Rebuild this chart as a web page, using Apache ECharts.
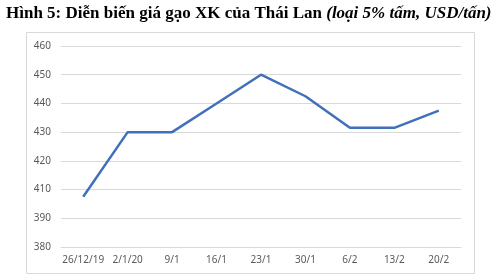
<!DOCTYPE html>
<html>
<head>
<meta charset="utf-8">
<script src="https://cdn.jsdelivr.net/npm/echarts@6/dist/echarts.min.js"></script>
<style>html,body{margin:0;padding:0;background:#fff;}#c{width:500px;height:278px;}</style>
</head>
<body>
<div id="c"></div>
<script>
var categories = ['26/12/19', '2/1/20', '9/1', '16/1', '23/1', '30/1', '6/2', '13/2', '20/2'];
var prices = [407.5, 430, 430, 440, 450, 442.5, 431.5, 431.5, 437.5];
var yTickValues = [390, 400, 410, 420, 430, 440, 450, 460];
var yTickLabels = ['380', '390', '410', '420', '430', '440', '450', '460'];
var titleMain = 'Hình 5: Diễn biến giá gạo XK của Thái Lan ';
var titleNote = '(loại 5% tấm, USD/tấn)';

var chart = echarts.init(document.getElementById('c'), null, {renderer: 'canvas'});
chart.setOption({
  animation: false,
  backgroundColor: '#fff',
  title: {
    text: '{b|' + titleMain + '}{i|' + titleNote + '}',
    left: 1, top: 0,
    textStyle: {
      rich: {
        b: {fontFamily: 'Liberation Serif', fontWeight: 'bold', fontSize: 17, color: '#000'},
        i: {fontFamily: 'Liberation Serif', fontStyle: 'italic', fontSize: 17, color: '#000'}
      }
    }
  },
  graphic: [{
    type: 'rect', shape: {x: 26.5, y: 32.5, width: 448, height: 241},
    style: {fill: 'none', stroke: '#d9d9d9', lineWidth: 1}, z: -1
  }],
  grid: {left: 61, right: 39, top: 46, bottom: 31},
  xAxis: {
    type: 'category', data: categories, boundaryGap: true,
    axisLine: {show: true, lineStyle: {color: '#d9d9d9', width: 1}},
    axisTick: {show: false},
    axisLabel: {color: '#595959', fontFamily: 'Noto Sans', fontSize: 10, margin: 8, interval: 0}
  },
  yAxis: {
    type: 'value', min: 390, max: 460, interval: 10,
    axisLine: {show: false}, axisTick: {show: false},
    splitLine: {lineStyle: {color: '#d9d9d9', width: 1}},
    axisLabel: {
      color: '#595959', fontFamily: 'Noto Sans', fontSize: 10, margin: 10,
      formatter: function (v) { var i = yTickValues.indexOf(v); return i >= 0 ? yTickLabels[i] : ''; }
    }
  },
  series: [{
    type: 'line', data: prices, symbol: 'none',
    lineStyle: {color: '#4170bb', width: 2.5}
  }]
});
</script>
</body>
</html>
